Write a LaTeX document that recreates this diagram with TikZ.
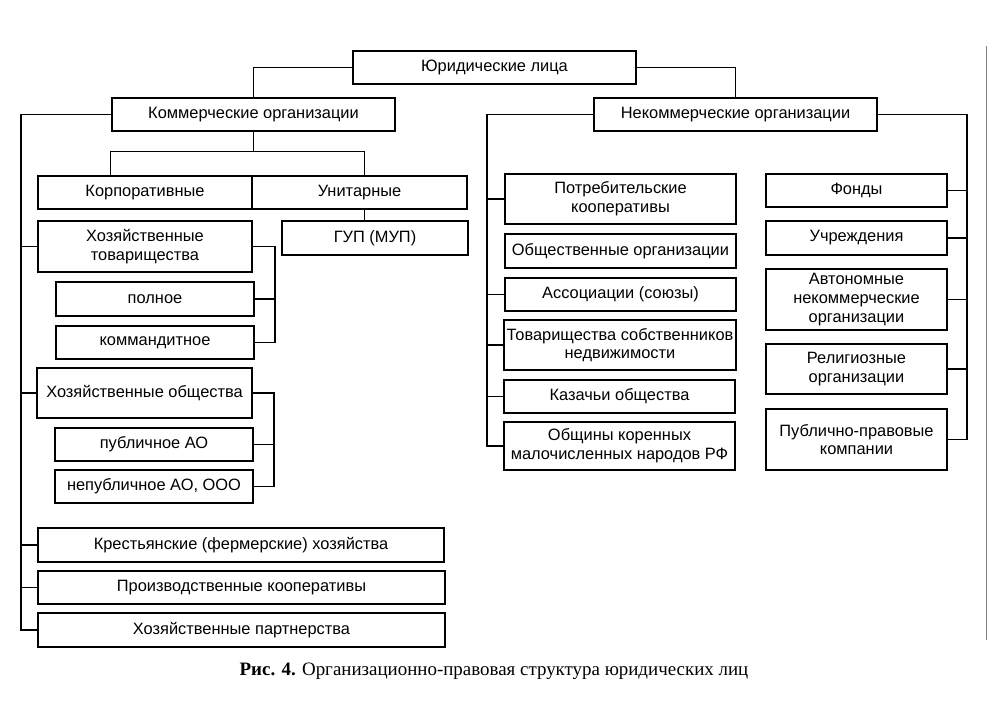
\documentclass[tikz,border=0pt]{standalone}
\usepackage{fontspec}
\setmainfont{Liberation Sans}
\newfontfamily\capfont{Liberation Serif}
\tikzset{
	orgbox/.style={draw, line width=0.8pt, align=center, inner sep=0pt,
		font=\fontsize{12.3pt}{14pt}\selectfont},
	link/.style={line width=0.8pt}
}
\begin{document}
\begin{tikzpicture}[x=0.75pt, y=-0.75pt]
			\useasboundingbox (0,0) rectangle (993,723);
			\foreach \n/\xa/\ya/\xb/\yb/\txt in {jur/353/51/636/84/{Юридические лица}, kom/112/98/395/131/{Коммерческие организации}, nekom/594/98/877/131/{Некоммерческие организации}, korp/38/176/252/209/{Корпоративные}, unit/252/176/467/209/{Унитарные}, gup/282/221/468/255/{ГУП (МУП)}, hozt/38/221/252/272/{Хозяйственные\\товарищества}, poln/56/282/254/316/{полное}, komand/56/326/254/359/{коммандитное}, hozo/37/368/252/418/{Хозяйственные общества}, pao/55/428/253/461/{публичное АО}, npao/55/470/253/503/{непубличное АО, ООО}, kfh/38/528/444/562/{Крестьянские (фермерские) хозяйства}, prk/38/571/445/604/{Производственные кооперативы}, part/38/613/445/647/{Хозяйственные партнерства}}
				\node[orgbox, minimum width={(\xb-\xa)*0.75pt}, minimum height={(\yb-\ya)*0.75pt}] (\n) at ({(\xa+\xb)/2},{(\ya+\yb)/2}) {\txt};
			\foreach \n/\xa/\ya/\xb/\yb/\txt in {potr/505/174/736/224/{Потребительские\\кооперативы}, obsh/505/234/736/268/{Общественные организации}, assoc/505/278/736/311/{Ассоциации (союзы)}, tovar/504/320/736/370/{Товарищества собственников\\недвижимости}, kaz/504/380/735/413/{Казачьи общества}, obshch/504/422/735/470/{Общины коренных\\малочисленных народов РФ}, fond/766/174/947/207/{Фонды}, uchr/766/221/947/255/{Учреждения}, avt/766/269/947/330/{Автономные\\некоммерческие\\организации}, rel/766/344/947/394/{Религиозные\\организации}, ppk/766/409/947/470/{Публично-правовые\\компании}}
				\node[orgbox, minimum width={(\xb-\xa)*0.75pt}, minimum height={(\yb-\ya)*0.75pt}] (\n) at ({(\xa+\xb)/2},{(\ya+\yb)/2}) {\txt};
			\coordinate (kl) at (21,0);
			\coordinate (t1) at (275,0);
			\coordinate (t2) at (274,0);
			\coordinate (nl) at (487,0);
			\coordinate (nr) at (967,0);
			\draw[link] (jur.west) -| (kom.north);
			\draw[link] (jur.east) -| (nekom.north);
			\draw[link] (kom.south) -- ++(0,20) coordinate (kb);
			\draw[link] ([xshift=54.75pt]korp.north west) |- (kb) -| ([xshift=4pt]unit.north);
			\draw[link] ([xshift=4pt]unit.south) -- ([xshift=4pt]unit.south |- gup.north);
			\draw[link] (kom.west) -| (kl |- part.west) -- (part.west);
			\foreach \m in {hozt, hozo, kfh, prk}
				\draw[link] (\m.west) -- (\m.west -| kl);
			\draw[link] (hozt.east) -| (t1 |- komand.east) -- (komand.east);
			\draw[link] (poln.east) -- (poln.east -| t1);
			\draw[link] (hozo.east) -| (t2 |- npao.east) -- (npao.east);
			\draw[link] (pao.east) -- (pao.east -| t2);
			\draw[link] (nekom.west) -| (nl |- obshch.west) -- (obshch.west);
			\foreach \m in {potr, assoc, tovar, kaz}
				\draw[link] (\m.west) -- (\m.west -| nl);
			\draw[link] (nekom.east) -| (nr |- ppk.east) -- (ppk.east);
			\foreach \m in {fond, uchr, avt, rel}
				\draw[link] (\m.east) -- (\m.east -| nr);
			\draw[gray, line width=0.6pt] (986,46) -- (986,640);
			\node[font=\capfont\fontsize{14.2pt}{16pt}\selectfont] (cap) at (494,671) {\textbf{Рис. 4.} Организационно-правовая структура юридических лиц};
		\end{tikzpicture}
\end{document}
